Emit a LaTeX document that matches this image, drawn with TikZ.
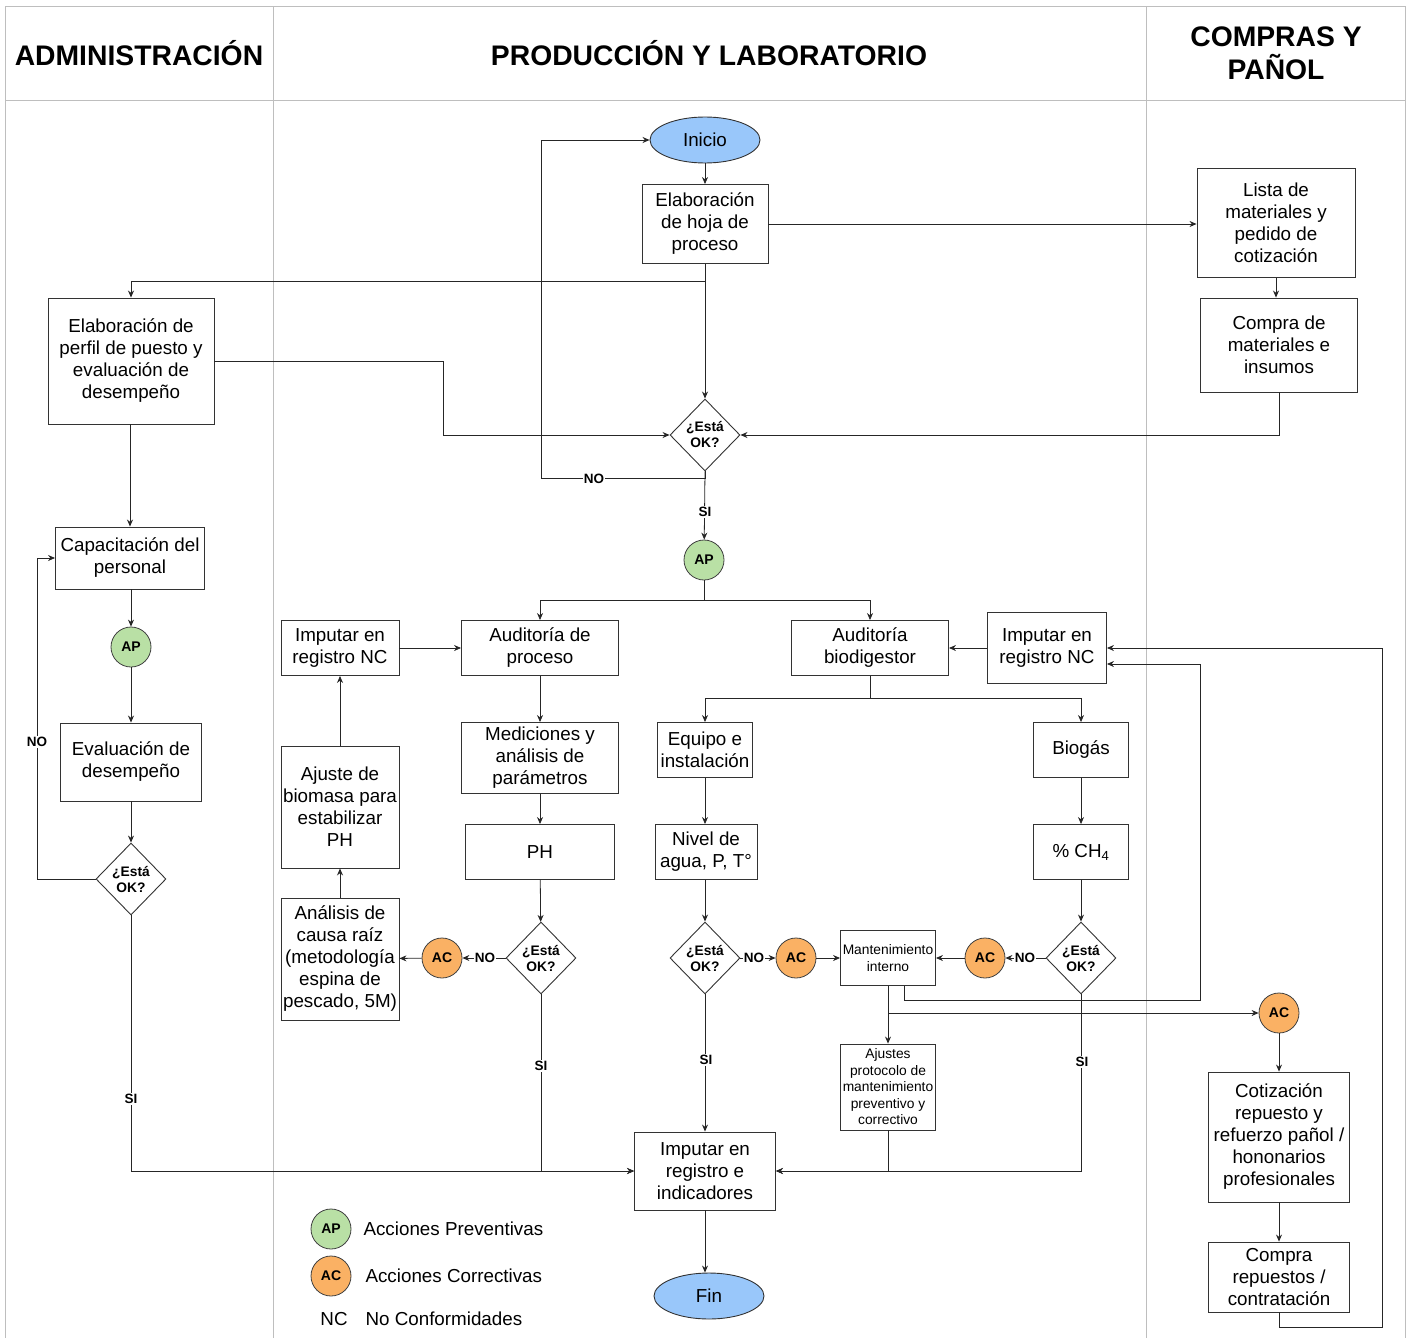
\documentclass[tikz,border=0pt]{standalone}
\usepackage{fontspec}
\setmainfont{Liberation Sans}
\usetikzlibrary{shapes.geometric,arrows.meta}
\definecolor{apgreen}{RGB}{185,224,165}
\definecolor{acorange}{RGB}{250,177,100}
\definecolor{startblue}{RGB}{153,199,250}
\definecolor{lanegray}{RGB}{190,190,190}
\tikzset{
  fbox/.style={draw=black!80, line width=0.9pt, fill=white, align=center, inner sep=0pt, font=\fontsize{18.8}{22}\selectfont},
  sbox/.style={draw=black!80, line width=0.9pt, fill=white, align=center, inner sep=0pt, font=\fontsize{13.8}{16.5}\selectfont},
  dec/.style={draw=black!80, diamond, line width=0.9pt, fill=white, minimum width=70pt, minimum height=72pt, inner sep=0pt, align=center, font=\bfseries\fontsize{13.8}{16}\selectfont},
  apn/.style={circle, draw=black!75, line width=0.8pt, fill=apgreen, minimum size=40pt, inner sep=0pt, font=\bfseries\fontsize{14}{16}\selectfont},
  acn/.style={circle, draw=black!75, line width=0.8pt, fill=acorange, minimum size=40pt, inner sep=0pt, font=\bfseries\fontsize{14}{16}\selectfont},
  term/.style={ellipse, draw=black!80, line width=0.9pt, fill=startblue, minimum width=110pt, minimum height=46pt, inner sep=0pt, font=\fontsize{18.8}{20}\selectfont},
  lab/.style={fill=white, inner sep=1pt, font=\bfseries\fontsize{13.5}{15}\selectfont},
  conn/.style={draw=black!85, line width=0.8pt, -{Stealth[length=7pt,width=6pt]}},
  plain/.style={draw=black!85, line width=0.8pt},
  hdr/.style={font=\bfseries\fontsize{28.3}{33}\selectfont, align=center},
  legt/.style={anchor=west, font=\fontsize{18.8}{21}\selectfont}
}
\begin{document}
\begin{tikzpicture}[x=1pt,y=-1pt]
\useasboundingbox (0,0) rectangle (1411,1338);
% lanes
\draw[lanegray, line width=1pt] (5,1338) -- (5,7) -- (1405,7) -- (1405,1338);
\draw[lanegray, line width=1pt] (273,7) -- (273,1338);
\draw[lanegray, line width=1pt] (1146,7) -- (1146,1338);
\draw[lanegray, line width=1pt] (5,100) -- (1405,100);
\node[hdr] (h1) at (139,53) {ADMINISTRACIÓN};
\node[hdr] (h2) at (709,53) {PRODUCCIÓN Y LABORATORIO};
\node[hdr] (h3) at (1276,53) {COMPRAS Y\\PAÑOL};

% nodes
\node[term] (inicio) at (705,140) {Inicio};
\node[fbox, minimum width=126pt, minimum height=79pt] (hoja) at (705,224) {Elaboración\\de hoja de\\proceso};
\node[fbox, minimum width=158pt, minimum height=109pt] (lista) at (1276,223) {Lista de\\materiales y\\pedido de\\cotización};
\node[fbox, minimum width=157pt, minimum height=94pt] (compra) at (1279,345) {Compra de\\materiales e\\insumos};
\node[fbox, minimum width=166pt, minimum height=126pt] (perfil) at (131,361) {Elaboración de\\perfil de puesto y\\evaluación de\\desempeño};
\node[dec] (d1) at (705,435) {¿Está\\OK?};
\node[apn] (ap1) at (704,560) {AP};
\node[fbox, minimum width=157pt, minimum height=55pt] (audp) at (540,648) {Auditoría de\\proceso};
\node[fbox, minimum width=157pt, minimum height=55pt] (audb) at (870,648) {Auditoría\\biodigestor};
\node[fbox, minimum width=118pt, minimum height=55pt] (nc1) at (340,648) {Imputar en\\registro NC};
\node[fbox, minimum width=119pt, minimum height=71pt] (nc2) at (1047,648) {Imputar en\\registro NC};
\node[fbox, minimum width=157pt, minimum height=71pt] (med) at (540,758) {Mediciones y\\análisis de\\parámetros};
\node[fbox, minimum width=149pt, minimum height=55pt] (ph) at (540,852) {PH};
\node[dec] (d2) at (541,958) {¿Está\\OK?};
\node[acn] (ac1) at (442,958) {AC};
\node[fbox, minimum width=118pt, minimum height=122pt] (causa) at (340,959) {Análisis de\\causa raíz\\(metodología\\espina de\\pescado, 5M)};
\node[fbox, minimum width=118pt, minimum height=122pt] (ajuste) at (340,807) {Ajuste de\\biomasa para\\estabilizar\\PH};
\node[fbox, minimum width=95pt, minimum height=55pt] (equipo) at (705,750) {Equipo e\\instalación};
\node[fbox, minimum width=95pt, minimum height=55pt] (biogas) at (1081,750) {Biogás};
\node[fbox, minimum width=102pt, minimum height=55pt] (nivel) at (706,852) {Nivel de\\agua, P, T°};
\node[fbox, minimum width=95pt, minimum height=55pt] (ch4) at (1081,852) {\% CH\textsubscript{4}};
\node[dec] (d3) at (705,958) {¿Está\\OK?};
\node[acn] (ac2) at (796,958) {AC};
\node[sbox, minimum width=95pt, minimum height=55pt] (mant) at (888,958) {Mantenimiento\\interno};
\node[acn] (ac3) at (985,958) {AC};
\node[dec] (d4) at (1081,958) {¿Está\\OK?};
\node[sbox, minimum width=95pt, minimum height=86pt] (ajp) at (888,1087) {Ajustes\\protocolo de\\mantenimiento\\preventivo y\\correctivo};
\node[fbox, minimum width=141pt, minimum height=78pt] (imp) at (705,1171) {Imputar en\\registro e\\indicadores};
\node[term] (fin) at (709,1296) {Fin};
\node[acn] (ac4) at (1279,1013) {AC};
\node[fbox, minimum width=141pt, minimum height=130pt] (cot) at (1279,1137) {Cotización\\repuesto y\\refuerzo pañol /\\hononarios\\profesionales};
\node[fbox, minimum width=141pt, minimum height=70pt] (comprar) at (1279,1277) {Compra\\repuestos /\\contratación};
\node[fbox, minimum width=149pt, minimum height=62pt] (capac) at (130,558) {Capacitación del\\personal};
\node[apn] (apA) at (131,647) {AP};
\node[fbox, minimum width=141pt, minimum height=78pt] (evalA) at (131,762) {Evaluación de\\desempeño};
\node[dec] (dA) at (131,879) {¿Está\\OK?};

% coordinates
\coordinate (j1) at (705,281);
\coordinate (b1) at (443,435);
\coordinate (n1) at (541,478);
\coordinate (s1) at (704,600);
\coordinate (s2) at (870,698);
\coordinate (m1) at (904,1000);
\coordinate (m2) at (1200,664);
\coordinate (m3) at (888,1013);
\coordinate (r0) at (1279,1327);
\coordinate (r1) at (1382,648);
\coordinate (a1) at (37,879);

% connectors
\draw[conn] (inicio) -- (hoja);
\draw[conn] (hoja.east) -- (hoja.east -| lista.west);
\draw[conn] (lista.south) -- (lista.south |- compra.north);
\draw[conn] (hoja.south) -- (d1.north);
\draw[conn] (j1) -| (perfil.north);
\draw[conn] (perfil.east) -| (b1) -- (d1.west);
\draw[conn] (compra.south) |- (d1.east);
\draw[plain] (d1.south) -- (d1.south |- n1) -- (n1);
\draw[conn] (n1) |- (inicio.west);
\node[lab] (lno1) at (594,479) {NO};
\draw[conn] (d1.south) -- (ap1);
\node[lab] (lsi1) at (705,512) {SI};
\draw[plain] (ap1.south) -- (s1);
\draw[conn] (s1) -| (audp.north);
\draw[conn] (s1) -| (audb.north);
\draw[conn] (nc1) -- (audp);
\draw[conn] (nc2) -- (audb);
\draw[conn] (audp) -- (med);
\draw[conn] (med) -- (ph);
\draw[conn] (ph) -- (d2);
\draw[conn] (d2.west) -- (ac1);
\node[lab] (lno2) at (485,958) {NO};
\draw[conn] (ac1) -- (causa);
\draw[conn] (causa) -- (ajuste);
\draw[conn] (ajuste) -- (nc1);
\draw[plain] (audb.south) -- (s2);
\draw[conn] (s2) -| (equipo.north);
\draw[conn] (s2) -| (biogas.north);
\draw[conn] (equipo.south) -- (equipo.south |- nivel.north);
\draw[conn] (nivel.south -| d3) -- (d3.north);
\draw[conn] (biogas) -- (ch4);
\draw[conn] (ch4) -- (d4);
\draw[conn] (d3.east) -- (ac2);
\node[lab] (lno3) at (754,958) {NO};
\draw[conn] (ac2) -- (mant);
\draw[conn] (d4.west) -- (ac3);
\node[lab] (lno4) at (1025,958) {NO};
\draw[conn] (ac3) -- (mant);
\draw[conn] (mant) -- (ajp);
\draw[conn] (mant.south -| m1) -- (m1) -| (m2) -- (m2 -| nc2.east);
\draw[conn] (m3) -- (ac4.west);
\draw[conn] (ac4) -- (cot);
\draw[conn] (cot) -- (comprar);
\draw[conn] (comprar.south) -- (r0) -| (r1) -- (nc2.east);
\draw[conn] (d3.south) -- (imp.north);
\node[lab] (lsi3) at (706,1060) {SI};
\draw[conn] (ajp.south) -- (ajp.south |- imp.east) -- (imp.east);
\draw[conn] (d4.south) |- (imp.east);
\node[lab] (lsi4) at (1082,1062) {SI};
\draw[conn] (d2.south) |- (imp.west);
\node[lab] (lsi2) at (541,1066) {SI};
\draw[conn] (dA.south) |- (imp.west);
\node[lab] (lsiA) at (131,1099) {SI};
\draw[conn] (imp.south) -- (imp.south |- fin.north);
\draw[conn] (perfil.south -| capac) -- (capac.north);
\draw[conn] (capac.south -| apA) -- (apA.north);
\draw[conn] (apA) -- (evalA);
\draw[conn] (evalA) -- (dA);
\draw[plain] (dA.west) -- (a1);
\draw[conn] (a1) |- (capac.west);
\node[lab] (lnoA) at (37,742) {NO};

% legend
\node[apn] (lap) at (331,1229) {AP};
\node[legt] (lapt) at (360,1229) {Acciones Preventivas};
\node[acn] (lac) at (331,1276) {AC};
\node[legt] (lact) at (362,1276) {Acciones Correctivas};
\node[font=\fontsize{18.8}{21}\selectfont] (lnc) at (334,1319) {NC};
\node[legt] (lnct) at (362,1319) {No Conformidades};
\end{tikzpicture}
\end{document}
